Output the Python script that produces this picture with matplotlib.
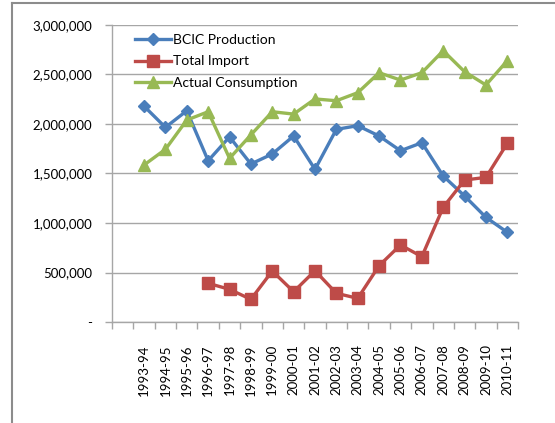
import numpy as np
import matplotlib
matplotlib.use("Agg")
import matplotlib.pyplot as plt
from matplotlib.lines import Line2D
from matplotlib.ticker import FuncFormatter

plt.rcParams['font.family'] = ['Lato', 'DejaVu Sans']

years = ["", "1993-94", "1994-95", "1995-96", "1996-97", "1997-98", "1998-99",
         "1999-00", "2000-01", "2001-02", "2002-03", "2003-04", "2004-05",
         "2005-06", "2006-07", "2007-08", "2008-09", "2009-10", "2010-11"]

bcic_production = [np.nan, 2180000, 1966000, 2134000, 1629000, 1870000, 1596000,
                   1697000, 1879000, 1542000, 1946000, 1983000, 1879000,
                   1730000, 1811000, 1475000, 1273000, 1057000, 906000]

total_import = [np.nan, np.nan, np.nan, np.nan, 391000, 330000, 229000,
                515000, 306000, 518000, 290000, 239000, 569000,
                778000, 660000, 1159000, 1434000, 1461000, 1805000]

actual_consumption = [np.nan, 1586000, 1744000, 2040000, 2124000, 1653000, 1890000,
                      2124000, 2100000, 2253000, 2235000, 2316000, 2518000,
                      2444000, 2518000, 2740000, 2528000, 2394000, 2640000]

y_ticks = [0, 500000, 1000000, 1500000, 2000000, 2500000, 3000000]

fig = plt.figure(figsize=(5.55, 4.23), dpi=100)
ax = fig.add_axes([112 / 555, 1 - 322 / 423, (518 - 112) / 555, (322 - 25) / 423])

x = np.arange(len(years))
ax.plot(x, bcic_production, color="#4A7EBB", lw=2.4, marker="D", ms=6.5,
        label="BCIC Production")
ax.plot(x, total_import, color="#BE4B48", lw=2.4, marker="s", ms=8.5,
        label="Total Import")
ax.plot(x, actual_consumption, color="#98B954", lw=2.4, marker="^", ms=9,
        label="Actual Consumption")

ax.set_xlim(-0.5, len(years) - 0.5)
ax.set_ylim(0, 3000000)
ax.set_yticks(y_ticks)
ax.yaxis.set_major_formatter(FuncFormatter(lambda v, p: "-" if v == 0 else f"{int(v):,}"))
ax.grid(axis="y", color="#A6A6A6", lw=1)
ax.set_axisbelow(True)

ax.set_xticks(x)
ax.set_xticklabels(years, rotation=90, fontsize=9.5)
ax.set_xticks(np.arange(-0.5, len(years)), minor=True)
ax.tick_params(axis="x", which="major", length=0, pad=16)
ax.tick_params(axis="x", which="minor", length=5, color="#A6A6A6", width=1)
ax.tick_params(axis="y", length=5, color="#A6A6A6", width=1, labelsize=9.5, pad=9)

for side in ("top", "right"):
    ax.spines[side].set_visible(False)
for side in ("left", "bottom"):
    ax.spines[side].set_color("#A6A6A6")
    ax.spines[side].set_linewidth(1)

ax.legend(loc="upper left", bbox_to_anchor=(0.035, 1.0), frameon=False,
          fontsize=10, handlelength=2.6, handletextpad=0.1, labelspacing=0.68,
          borderaxespad=0.25)

# outer frame edges (top and left)
fig.add_artist(Line2D([12 / 555, 1], [1 - 3 / 423, 1 - 3 / 423],
                      transform=fig.transFigure, color="#8C8C8C", lw=1.5))
fig.add_artist(Line2D([12 / 555, 12 / 555], [0, 1 - 3 / 423],
                      transform=fig.transFigure, color="#8C8C8C", lw=1.5))

fig.savefig("out.png", dpi=100)
